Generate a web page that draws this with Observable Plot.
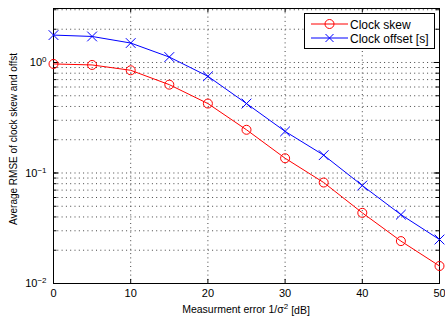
<!DOCTYPE html>
<html><head><meta charset="utf-8">
<script src="https://cdn.jsdelivr.net/npm/d3@7"></script>
<script src="https://cdn.jsdelivr.net/npm/@observablehq/plot@0.6"></script>
<style>body{margin:0;background:#fff}svg{font-family:"Liberation Sans",Arial,sans-serif}</style>
</head><body><div id="chart"></div>
<script>
const snr = [0, 5, 10, 15, 20, 25, 30, 35, 40, 45, 50];
const clockSkew = [0.97, 0.95, 0.85, 0.63, 0.425, 0.246, 0.136, 0.082, 0.0436, 0.0242, 0.0144];
const clockOffset = [1.77, 1.72, 1.50, 1.12, 0.75, 0.425, 0.238, 0.145, 0.077, 0.042, 0.025];
const xTicks = [0, 10, 20, 30, 40, 50];
const yTicks = [0.01, 0.1, 1];
const yTickExp = ["\u22122", "\u22121", "0"];
const seriesNames = ["Clock skew", "Clock offset [s]"];
const seriesColors = ["#ff0000", "#0000ff"];

const skewData = snr.map((x, i) => ({x, y: clockSkew[i]}));
const offsetData = snr.map((x, i) => ({x, y: clockOffset[i]}));
const minor = [];
for (const d of [0.01, 0.1, 1]) for (let k = 1; k <= 9; k++) { const v = d * k; if (v <= 3.05) minor.push(v); }
const gridY = minor.filter(v => v > 0.01);
const xGrid = xTicks.slice(1, -1);
const expOf = v => yTickExp[yTicks.findIndex(t => Math.abs(t - v) / t < 1e-6)];

const yMin = 0.01, yMax = 3.08;
const tl = Math.pow(10, 4 / 110.5);
const chart = Plot.plot({
  width: 445, height: 320,
  marginLeft: 53, marginRight: 6, marginTop: 8, marginBottom: 37,
  style: {fontFamily: '"Liberation Sans", Arial, sans-serif', fontSize: "11px", color: "#000", background: "#fff"},
  x: {domain: [0, 50], ticks: xTicks},
  y: {type: "log", domain: [yMin, yMax], ticks: yTicks},
  marks: [
    Plot.ruleY(gridY, {stroke: "#444", strokeDasharray: "1,3.3", strokeWidth: 1}),
    Plot.ruleX(xGrid, {stroke: "#444", strokeDasharray: "1,3.3", strokeWidth: 1}),
    Plot.ruleY(minor, {x1: 0, x2: 0.45, stroke: "#000"}),
    Plot.ruleY(minor, {x1: 50, x2: 49.55, stroke: "#000"}),
    Plot.ruleY(yTicks, {x1: 0, x2: 0.7, stroke: "#000"}),
    Plot.ruleY(yTicks, {x1: 50, x2: 49.3, stroke: "#000"}),
    Plot.ruleX(xTicks, {y1: yMin, y2: yMin * tl, stroke: "#000"}),
    Plot.ruleX(xTicks, {y1: yMax, y2: yMax / tl, stroke: "#000"}),
    Plot.axisX({ticks: xTicks, tickSize: 0, tickPadding: 6, tickFormat: d => String(d), label: null, fontSize: 11}),
    Plot.axisY({ticks: yTicks, tickSize: 0, tickPadding: 7, tickFormat: d => "10^" + expOf(d), label: null, fontSize: 11}),
    Plot.frame({stroke: "#000", strokeWidth: 1}),
    Plot.line(skewData, {x: "x", y: "y", stroke: seriesColors[0], strokeWidth: 1}),
    Plot.dot(skewData, {x: "x", y: "y", stroke: seriesColors[0], r: 4.5, strokeWidth: 1, fill: "none"}),
    Plot.line(offsetData, {x: "x", y: "y", stroke: seriesColors[1], strokeWidth: 1}),
    Plot.dot(offsetData, {x: "x", y: "y", stroke: seriesColors[1], symbol: "times", r: 4.5, strokeWidth: 1})
  ]
});
document.getElementById("chart").appendChild(chart);
const svg = d3.select(chart);
svg.selectAll("text").each(function() {
  const t = d3.select(this);
  const s = t.text();
  if (s.startsWith("10^")) {
    const exp = s.slice(3);
    t.text("");
    t.append("tspan").text("10");
    t.append("tspan").attr("dy", "-0.5em").attr("font-size", "8px").text(exp);
  }
});
svg.append("text").attr("x", 246).attr("y", 313).attr("text-anchor", "middle")
  .attr("font-size", 10.5).call(t => {
    t.append("tspan").text("Measurment error 1/\u03c3");
    t.append("tspan").attr("dy", "-0.45em").attr("font-size", "8px").text("2");
    t.append("tspan").attr("dy", "0.45em").text(" [dB]");
  });
svg.append("text").attr("transform", "translate(17,139) rotate(-90)").attr("text-anchor", "middle")
  .attr("font-size", 10).text("Average RMSE of clock skew and offst");
const lg = svg.append("g").attr("text-anchor", "start");
lg.append("rect").attr("x", 304.5).attr("y", 13.5).attr("width", 130).attr("height", 35).attr("fill", "#fff").attr("stroke", "#000");
seriesNames.forEach((name, i) => {
  const y = 24 + i * 14;
  lg.append("line").attr("x1", 311).attr("x2", 348).attr("y1", y).attr("y2", y).attr("stroke", seriesColors[i]);
  if (i === 0) lg.append("circle").attr("cx", 329.5).attr("cy", y).attr("r", 4.5).attr("fill", "none").attr("stroke", seriesColors[i]);
  else lg.append("path").attr("d", `M${329.5-4},${y-4}L${329.5+4},${y+4}M${329.5-4},${y+4}L${329.5+4},${y-4}`).attr("stroke", seriesColors[i]);
  lg.append("text").attr("x", 350).attr("y", y + 4.5).attr("text-anchor", "start").attr("font-size", 12).text(name);
});
</script></body></html>
